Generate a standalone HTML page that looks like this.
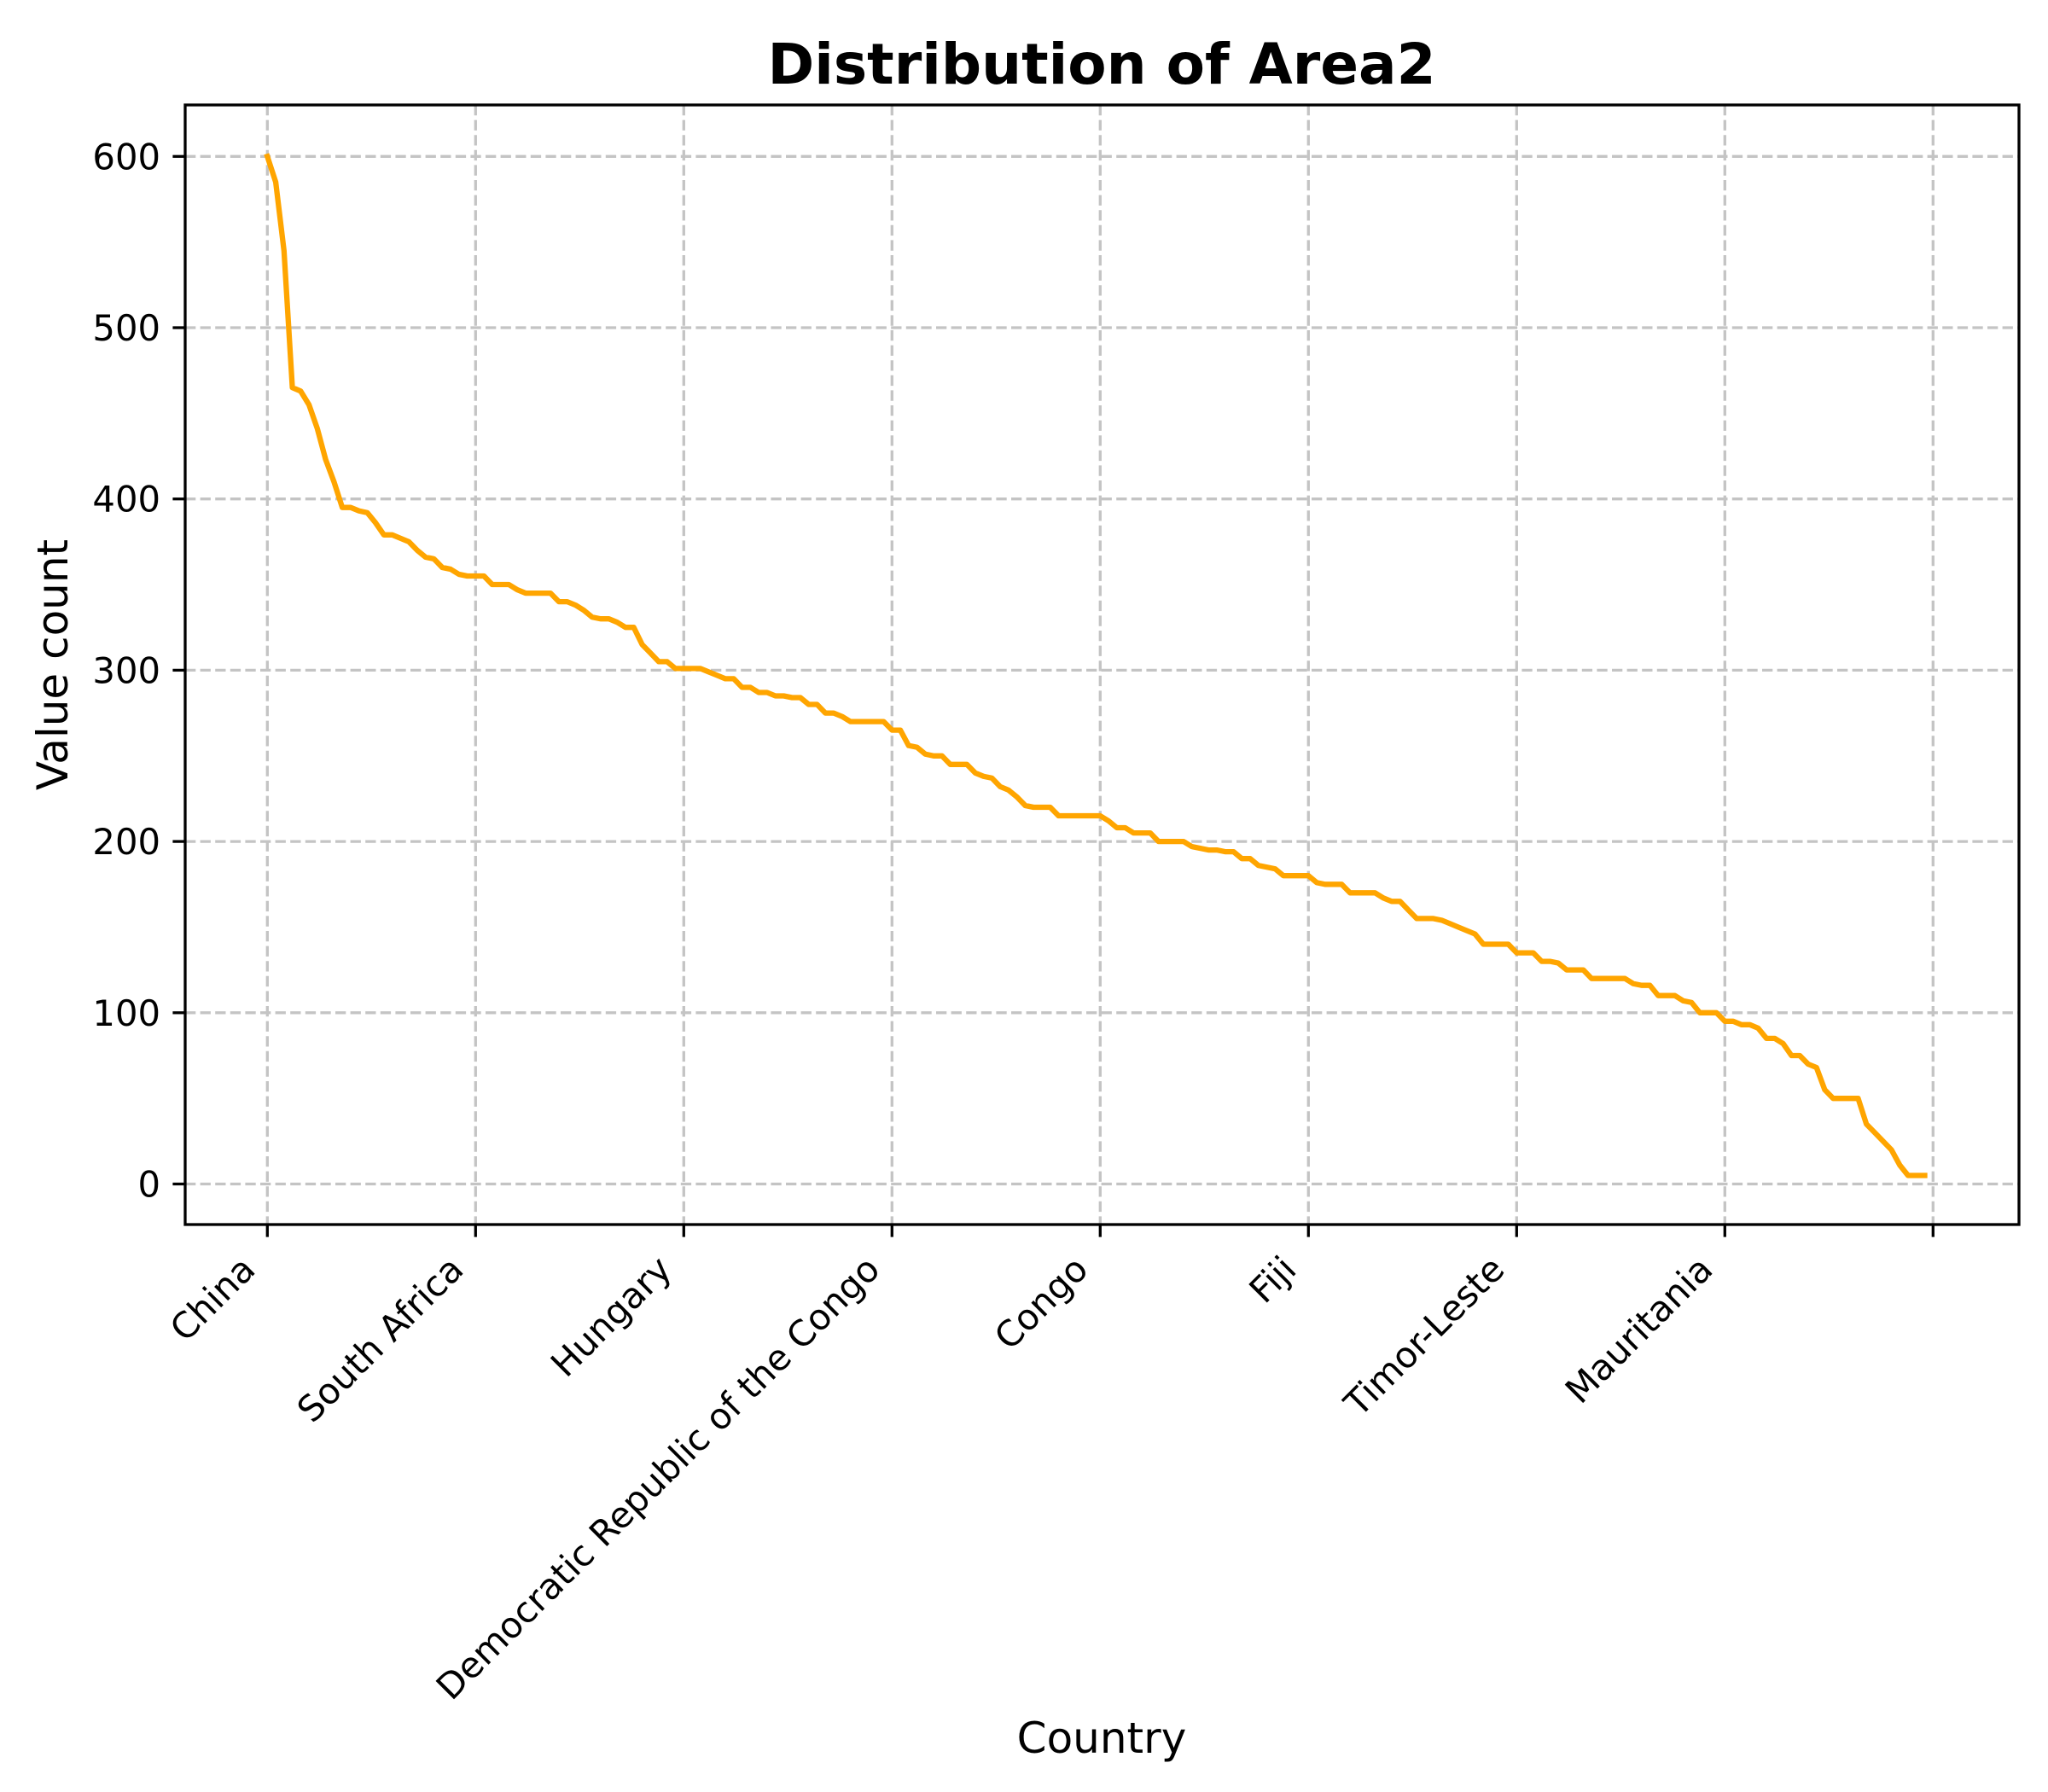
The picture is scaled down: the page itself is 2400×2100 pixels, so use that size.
<!DOCTYPE html>
<html><head><meta charset="utf-8"><style>html,body{margin:0;padding:0;background:#fff}svg{display:block}</style></head>
<body>
<svg id="chart" xmlns="http://www.w3.org/2000/svg" width="2400" height="2100" viewBox="0 0 2400 2100" font-family="DejaVu Sans, Liberation Sans, sans-serif">
<rect width="2400" height="2100" fill="#fff"/>
<g id="grid"></g>
<g id="series"></g>
<g id="axes"></g>
<text x="1291" y="98" text-anchor="middle" font-size="66" font-weight="bold">Distribution of Area2</text>
<text x="1291" y="2054" text-anchor="middle" font-size="50">Country</text>
<text transform="translate(79,779) rotate(-90)" text-anchor="middle" font-size="50">Value count</text>
</svg>
<script>
const tickLabels = ["China","South Africa","Hungary","Democratic Republic of the Congo","Congo","Fiji","Timor-Leste","Mauritania",""];
const tickIndices = [0,25,50,75,100,125,150,175,200];
const yTicks = [0,100,200,300,400,500,600];
const values = [
600,585,545,465,463,455,441,423,410,395,
395,393,392,386,379,379,377,375,370,366,
365,360,359,356,355,355,355,350,350,350,
347,345,345,345,345,340,340,338,335,331,
330,330,328,325,325,315,310,305,305,301,
301,301,301,299,297,295,295,290,290,287,
287,285,285,284,284,280,280,275,275,273,
270,270,270,270,270,265,265,256,255,251,
250,250,245,245,245,240,238,237,232,230,
226,221,220,220,220,215,215,215,215,215,
215,212,208,208,205,205,205,200,200,200,
200,197,196,195,195,194,194,190,190,186,
185,184,180,180,180,180,176,175,175,175,
170,170,170,170,167,165,165,160,155,155,
155,154,152,150,148,146,140,140,140,140,
135,135,135,130,130,129,125,125,125,120,
120,120,120,120,117,116,116,110,110,110,
107,106,100,100,100,95,95,93,93,91,
85,85,82,75,75,70,68,55,50,50,
50,50,35,30,25,20,11,5,5,5
];
const NS = "http://www.w3.org/2000/svg";
const L = 217, R = 2366, T = 123, B = 1435;
function xPos(i){ return 313.3 + i * 9.76; }
function yPos(v){ return 1387.5 - v * 2.007; }
function mk(tag, attrs, parent){ const e = document.createElementNS(NS, tag); for (const k in attrs) e.setAttribute(k, attrs[k]); parent.appendChild(e); return e; }
const grid = document.getElementById('grid'), axes = document.getElementById('axes'), series = document.getElementById('series');
tickIndices.forEach((t, k) => {
  const x = xPos(t);
  const g = mk('line', {x1:x, x2:x, y1:T, y2:B, stroke:'#c4c4c4', 'stroke-width':3.3, 'stroke-dasharray':'12.3,5.3'}, grid);
  
  
  const tk = mk('line', {x1:x, x2:x, y1:B, y2:B+14.6, stroke:'#000', 'stroke-width':3.3}, axes);
  
  
  if (tickLabels[k]) {
    const tx = mk('text', {transform:`translate(${x-12},1490) rotate(-45)`, 'text-anchor':'end', 'font-size':41.7}, axes);
    tx.textContent = tickLabels[k];
    
    
  }
});
yTicks.forEach(v => {
  const y = yPos(v);
  const g = mk('line', {x1:L, x2:R, y1:y, y2:y, stroke:'#c4c4c4', 'stroke-width':3.3, 'stroke-dasharray':'12.3,5.3'}, grid);
  
  
  const tk = mk('line', {x1:L-14.6, x2:L, y1:y, y2:y, stroke:'#000', 'stroke-width':3.3}, axes);
  
  
  const tx = mk('text', {x:L-29, y:y+15, 'text-anchor':'end', 'font-size':41.7}, axes);
  tx.textContent = String(v);
  
  
});
const frame = mk('rect', {x:L, y:T, width:R-L, height:B-T, fill:'none', stroke:'#000', 'stroke-width':3.3}, axes);


const pts = values.map((v, i) => xPos(i).toFixed(1) + ',' + yPos(v).toFixed(1)).join(' ');
const line = mk('polyline', {points:pts, fill:'none', stroke:'#FFA500', 'stroke-width':6.3, 'stroke-linejoin':'round', 'stroke-linecap':'square'}, series);


</script>
</body></html>
